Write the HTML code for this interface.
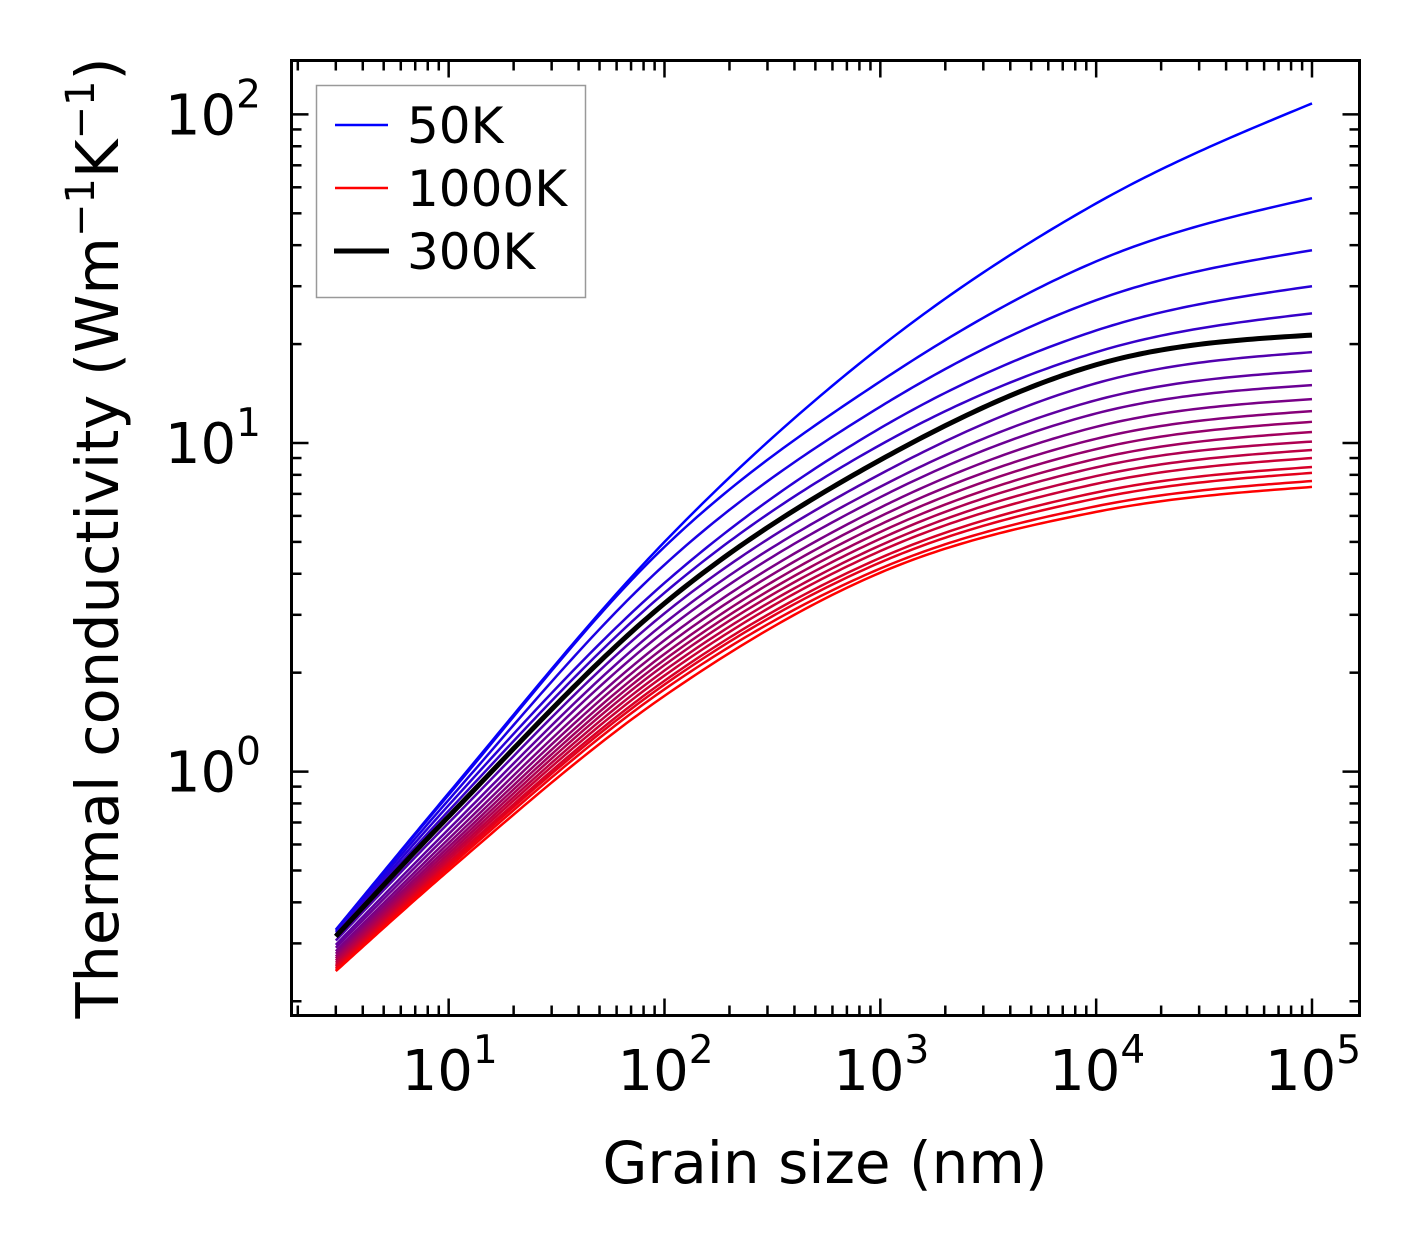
<!DOCTYPE html>
<html><head><meta charset="utf-8">
<style>
html,body{margin:0;padding:0;background:#fff;}
svg{display:block;font-family:"DejaVu Sans","Liberation Sans",sans-serif;}
</style></head>
<body>
<svg id="chart" width="1421" height="1254" viewBox="0 0 1421 1254" xmlns="http://www.w3.org/2000/svg">
<rect x="0" y="0" width="1421" height="1254" fill="#fff"/>
<g id="series"></g>
<g id="ticks"></g>
<rect x="291.5" y="60.5" width="1068" height="955" fill="none" stroke="#000" stroke-width="3"/>
<g id="labels"></g>
<text x="825" y="1183" font-size="58" text-anchor="middle">Grain size (nm)</text>
<text transform="translate(118,538) rotate(-90)" font-size="59" text-anchor="middle">Thermal conductivity (Wm<tspan font-size="40" dy="-24">−1</tspan><tspan dy="24">K</tspan><tspan font-size="40" dy="-24">−1</tspan><tspan dy="24">)</tspan></text>
<g>
<rect x="316.5" y="85.5" width="269" height="212" fill="#fff" stroke="#999" stroke-width="1.5"/>
<line x1="335" y1="125" x2="388" y2="125" stroke="#0000ff" stroke-width="2.5"/>
<text x="407" y="143" font-size="50">50K</text>
<line x1="335" y1="188" x2="388" y2="188" stroke="#ff0000" stroke-width="2.5"/>
<text x="407" y="206" font-size="50">1000K</text>
<line x1="334" y1="251" x2="389" y2="251" stroke="#000" stroke-width="5"/>
<text x="407" y="269" font-size="50">300K</text>
</g>
</svg>
<script>
const grainSizes = [3, 10, 100, 1000, 10000, 100000];
const temperatures = [50,100,150,200,250,300,350,400,450,500,550,600,650,700,750,800,850,900,950,1000];
const k50 = [0.33, 0.86, 5.0, 19.6, 53.6, 108];
const k100 = [0.33, 0.85, 4.83, 15.4, 35.7, 55.6];
const k150 = [0.325, 0.82, 4.26, 12.9, 27.2, 38.6];
const k200 = [0.32, 0.79, 3.75, 11.1, 22.0, 30.0];
const k250 = [0.318, 0.76, 3.50, 9.87, 18.9, 24.8];
const k300 = [0.315, 0.73, 3.25, 8.88, 17.3, 21.3];
const k350 = [0.306, 0.698, 3.03, 8.04, 15.2, 18.9];
const k400 = [0.297, 0.668, 2.83, 7.36, 13.5, 16.6];
const k450 = [0.291, 0.646, 2.67, 6.84, 12.3, 15.0];
const k500 = [0.284, 0.624, 2.51, 6.36, 11.2, 13.6];
const k550 = [0.279, 0.606, 2.39, 5.98, 10.3, 12.5];
const k600 = [0.274, 0.590, 2.28, 5.65, 9.58, 11.6];
const k650 = [0.270, 0.576, 2.19, 5.36, 8.95, 10.8];
const k700 = [0.266, 0.563, 2.11, 5.11, 8.43, 10.1];
const k750 = [0.262, 0.551, 2.03, 4.88, 7.93, 9.52];
const k800 = [0.258, 0.540, 1.96, 4.69, 7.51, 9.00];
const k850 = [0.255, 0.529, 1.89, 4.47, 7.07, 8.45];
const k900 = [0.252, 0.521, 1.84, 4.33, 6.78, 8.11];
const k950 = [0.249, 0.511, 1.78, 4.15, 6.42, 7.66];
const k1000 = [0.247, 0.50, 1.70, 4.03, 6.17, 7.35];
const seriesValues = [k50,k100,k150,k200,k250,k300,k350,k400,k450,k500,k550,k600,k650,k700,k750,k800,k850,k900,k950,k1000];
const xTickExps = [1,2,3,4,5];
const yTickExps = [0,1,2];

const NS = "http://www.w3.org/2000/svg";
const PL=291.5, PR=1359.5, PT=60.5, PB=1015.5;
const XMIN=Math.log10(1.87), XMAX=Math.log10(166000);
const YMIN=Math.log10(0.181), YMAX=Math.log10(145.9);
function xs(v){return PL+(Math.log10(v)-XMIN)/(XMAX-XMIN)*(PR-PL);}
function ys(v){return PB-(Math.log10(v)-YMIN)/(YMAX-YMIN)*(PB-PT);}

function pathFor(vals){
  const X=grainSizes.map(g=>Math.log10(g)), Y=vals.map(v=>Math.log10(v));
  const n=X.length, h=[], d=[], m=[];
  for(let i=0;i<n-1;i++){h.push(X[i+1]-X[i]);d.push((Y[i+1]-Y[i])/h[i]);}
  for(let i=1;i<n-1;i++) m[i]=(d[i-1]*h[i]+d[i]*h[i-1])/(h[i-1]+h[i]);
  m[0]=(3*d[0]-m[1])/2; m[n-1]=(3*d[n-2]-m[n-2])/2;
  const pts=[];
  for(let i=0;i<n-1;i++){
    const N=40;
    for(let k=(i===0?0:1);k<=N;k++){
      const t=k/N, t2=t*t, t3=t2*t;
      const lx=X[i]+t*h[i];
      const ly=(2*t3-3*t2+1)*Y[i]+(t3-2*t2+t)*h[i]*m[i]+(-2*t3+3*t2)*Y[i+1]+(t3-t2)*h[i]*m[i+1];
      pts.push(xs(Math.pow(10,lx)).toFixed(2)+','+ys(Math.pow(10,ly)).toFixed(2));
    }
  }
  return 'M'+pts.join(' L');
}
const sg=document.getElementById('series');
let blackPath=null;
seriesValues.forEach((vals,i)=>{
  const el=document.createElementNS(NS,'path');
  
  
  el.setAttribute('d',pathFor(vals));
  el.setAttribute('fill','none');
  el.setAttribute('stroke-linejoin','round');
  const t=i/(temperatures.length-1);
  const col=`rgb(${Math.round(255*t)},0,${Math.round(255*(1-t))})`;
  if(temperatures[i]===300){el.setAttribute('stroke','#000');el.setAttribute('stroke-width','5');blackPath=el;}
  else{el.setAttribute('stroke',col);el.setAttribute('stroke-width','2.5');}
  sg.appendChild(el);
});
if(blackPath) sg.appendChild(blackPath);

const tg=document.getElementById('ticks');
function tick(x1,y1,x2,y2,name){
  const l=document.createElementNS(NS,'line');
  
  
  l.setAttribute('x1',x1);l.setAttribute('y1',y1);l.setAttribute('x2',x2);l.setAttribute('y2',y2);
  l.setAttribute('stroke','#000');l.setAttribute('stroke-width','2.5');
  tg.appendChild(l);
}
const MAJ=17, MIN=10;
for(let e=0;e<=5;e++){for(let m=1;m<=9;m++){
  const v=m*Math.pow(10,e); const lv=Math.log10(v);
  if(lv<XMIN||lv>XMAX) continue;
  const x=xs(v), len=m===1?MAJ:MIN;
  tick(x,PB,x,PB-len,'x-tick');
  tick(x,PT,x,PT+len,'x-tick-top');
}}
for(let e=-1;e<=2;e++){for(let m=1;m<=9;m++){
  const v=m*Math.pow(10,e); const lv=Math.log10(v);
  if(lv<YMIN||lv>YMAX) continue;
  const y=ys(v), len=m===1?MAJ:MIN;
  tick(PL,y,PL+len,y,'y-tick');
  tick(PR,y,PR-len,y,'y-tick-right');
}}
const lg=document.getElementById('labels');
xTickExps.forEach(e=>{
  const t=document.createElementNS(NS,'text');
  
  
  t.setAttribute('x',xs(Math.pow(10,e))+1);t.setAttribute('y',1090);
  t.setAttribute('font-size','56');t.setAttribute('text-anchor','middle');
  t.innerHTML=`10<tspan font-size="39" dy="-27">${e}</tspan>`;
  lg.appendChild(t);
});
yTickExps.forEach(e=>{
  const t=document.createElementNS(NS,'text');
  
  
  t.setAttribute('x',261);t.setAttribute('y',ys(Math.pow(10,e))+20);
  t.setAttribute('font-size','56');t.setAttribute('text-anchor','end');
  t.innerHTML=`10<tspan font-size="39" dy="-27">${e}</tspan>`;
  lg.appendChild(t);
});
</script>
</body></html>
